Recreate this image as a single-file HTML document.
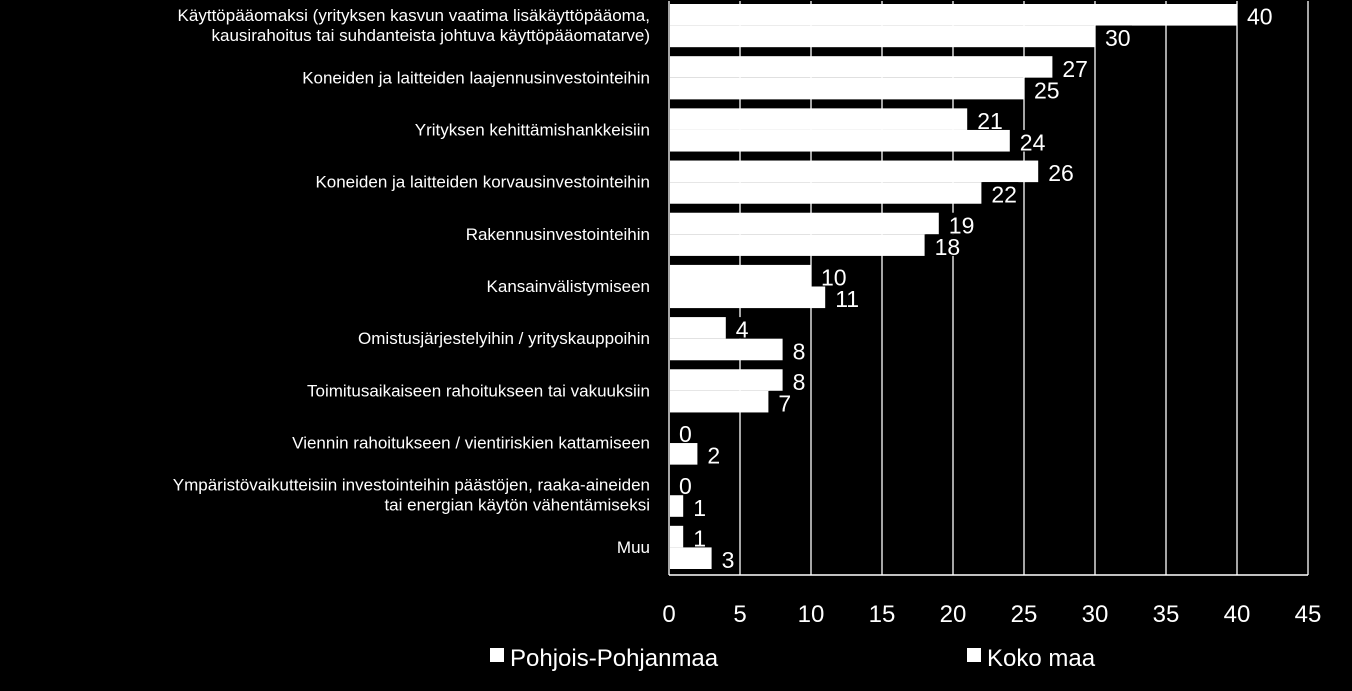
<!DOCTYPE html>
<html><head><meta charset="utf-8"><style>
body{margin:0;background:#000;width:1352px;height:691px;overflow:hidden}
svg{display:block;font-family:"Liberation Sans",sans-serif}
</style></head><body>
<svg id="c" width="1352" height="691"></svg>
<script>
const categories=[["Käyttöpääomaksi (yrityksen kasvun vaatima lisäkäyttöpääoma,","kausirahoitus tai suhdanteista johtuva käyttöpääomatarve)"],["Koneiden ja laitteiden laajennusinvestointeihin"],["Yrityksen kehittämishankkeisiin"],["Koneiden ja laitteiden korvausinvestointeihin"],["Rakennusinvestointeihin"],["Kansainvälistymiseen"],["Omistusjärjestelyihin / yrityskauppoihin"],["Toimitusaikaiseen rahoitukseen tai vakuuksiin"],["Viennin rahoitukseen / vientiriskien kattamiseen"],["Ympäristövaikutteisiin investointeihin päästöjen, raaka-aineiden","tai energian käytön vähentämiseksi"],["Muu"]];
const seriesPohjois=[40,27,21,26,19,10,4,8,0,0,1];
const seriesKoko=[30,25,24,22,18,11,8,7,2,1,3];
const ticks=[0,5,10,15,20,25,30,35,40,45];
const svg=document.getElementById('c');const NS='http://www.w3.org/2000/svg';
function mk(t,a,p){const e=document.createElementNS(NS,t);for(const k in a)e.setAttribute(k,a[k]);(p||svg).appendChild(e);return e;}
const x0=669,x1=1308,yTop=1,yBot=575,band=(yBot-yTop)/categories.length;
const X=v=>x0+(x1-x0)*v/45;
for(const t of ticks){
 const g=mk('line',{x1:X(t),x2:X(t),y1:yTop,y2:yBot,stroke:'#fff','stroke-width':1.3});
 
 
 const tl=mk('text',{x:X(t),y:622,fill:'#fff','font-size':24,'text-anchor':'middle'});tl.textContent=t;
 
 
}
const ax=mk('line',{x1:x0,x2:x1,y1:yBot,y2:yBot,stroke:'#fff','stroke-width':1.5});


categories.forEach((c,i)=>{
 const by=yTop+i*band+3,bh=(band-9)/2;
 [[seriesPohjois[i],by],[seriesKoko[i],by+bh]].forEach(([v,y],s)=>{
  const r=mk('rect',{x:x0+1,y:y,width:Math.max(0,X(v)-x0-1),height:bh,fill:'#fff'});
  
  
  const bg=mk('rect',{x:X(v)+1,y:y,width:v>=10?36:22,height:bh,fill:'#000'});
  
  
  const t=mk('text',{x:X(v)+10,y:y+bh-1,fill:'#fff','font-size':23});t.textContent=v;
  
  
 });
 const cy=yTop+i*band+band/2-2;
 c.forEach((line,j)=>{
  const t=mk('text',{x:650,y:cy+6+(j-(c.length-1)/2)*20,fill:'#fff','font-size':17,'text-anchor':'end'});t.textContent=line;
  
  
 });
});
[[490,'Pohjois-Pohjanmaa'],[967,'Koko maa']].forEach(([x,n])=>{
 const s=mk('rect',{x:x,y:648,width:14,height:14,fill:'#fff'});
 
 
 const t=mk('text',{x:x+20,y:666,fill:'#fff','font-size':24});t.textContent=n;
 
 
});
</script></body></html>
